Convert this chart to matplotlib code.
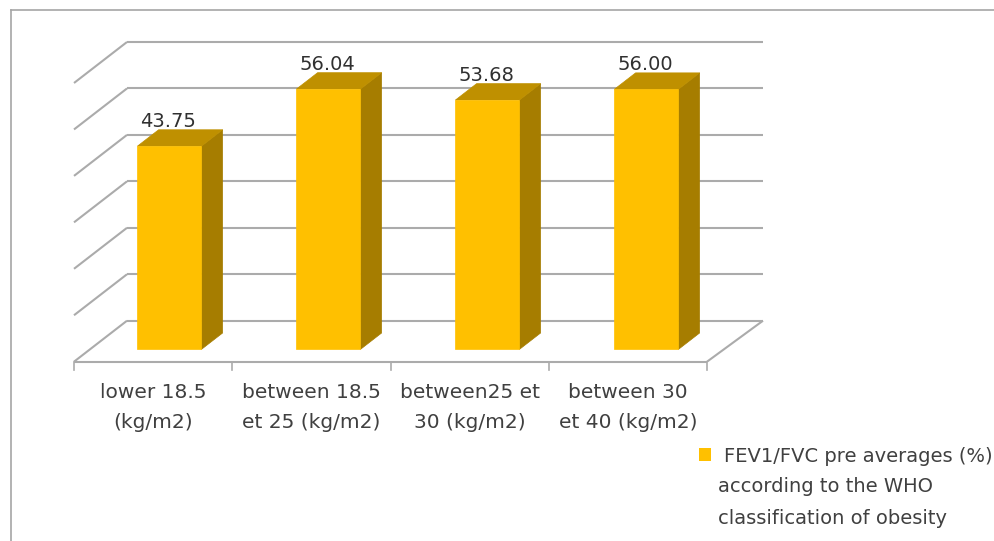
#!/usr/bin/python
# -*- encoding: utf-8 -*-
# Pseudo-3D column chart of FEV1/FVC averages by WHO obesity class
import matplotlib
matplotlib.use('Agg')
import matplotlib.pyplot as plt
from matplotlib.patches import Polygon, Rectangle

categories = ['lower 18.5\n(kg/m2)', 'between 18.5\net 25 (kg/m2)', 'between25 et\n30 (kg/m2)', 'between 30\net 40 (kg/m2)']
values = [43.75, 56.04, 53.68, 56.00]
value_labels = ['43.75', '56.04', '53.68', '56.00']
grid_values = [0, 10, 20, 30, 40, 50, 60]
legend_lines = ['FEV1/FVC pre averages (%)', 'according to the WHO', 'classification of obesity']

W, H = 995, 541
FONT = ['DejaVu Sans']
TEXT = '#404040'
GRID = '#ababab'

# Back wall of the chart in pixels, everything else hangs off it
WALL_L, WALL_R, WALL_TOP, WALL_BOT = 127, 763, 42, 320.7
DEPTH_X_PX, DEPTH_Y_PX = 53, 41
FRONT_SQUEEZE_PX = 3

fig = plt.figure(figsize=(W / 100, H / 100), dpi=100)
ax = fig.add_axes([WALL_L / W, 1 - WALL_BOT / H, (WALL_R - WALL_L) / W, (WALL_BOT - WALL_TOP) / H])
ax.set_xlim(-0.5, 3.5)
ax.set_ylim(0, 60)
ax.axis('off')

unit_x = (WALL_R - WALL_L) / 4
unit_y = (WALL_BOT - WALL_TOP) / 60

# Project a point on the chart floor toward the viewer, depth 0 = wall, 1 = front edge
def project(x, y, depth):
    return (x - depth * DEPTH_X_PX / unit_x, y - depth * DEPTH_Y_PX / unit_y)

# Same thing for the front edge, which is a touch narrower than the wall
def front_edge(x):
    px, py = project(x, 0, 1)
    return (px - (x + 0.5) / 4 * FRONT_SQUEEZE_PX / unit_x, py)

def line3d(p0, p1, **kw):
    ax.plot([p0[0], p1[0]], [p0[1], p1[1]], color=GRID, lw=1.5, clip_on=False,
            solid_capstyle='butt', **kw)

# Gridlines on the back wall, with the matching stroke on the side wall
for v in grid_values:
    line3d((-0.5, v), (3.5, v), zorder=1)
    line3d((-0.5, v), project(-0.5, v, 1), zorder=1)

# Floor front and right edges, plus the category ticks
line3d(front_edge(-0.5), front_edge(3.5), zorder=1)
line3d((3.5, 0), front_edge(3.5), zorder=1)
for i in range(5):
    x, y = front_edge(i - 0.5)
    ax.plot([x, x], [y, y - 8 / unit_y], color=GRID, lw=1.2, clip_on=False, zorder=1)

# Columns: front face, side and top
half = 32 / unit_x
front, back = 0.7, 0.3
for i, v in enumerate(values):
    x = i
    fl, fr = x - half, x + half
    ax.add_patch(Polygon([project(fr, 0, front), project(fr, 0, back), project(fr, v, back), project(fr, v, front)],
                         closed=True, fc='#A67D00', ec='#A67D00', lw=0.5, clip_on=False, zorder=3))
    ax.add_patch(Polygon([project(fl, v, front), project(fr, v, front), project(fr, v, back), project(fl, v, back)],
                         closed=True, fc='#BF9000', ec='#BF9000', lw=0.5, clip_on=False, zorder=3))
    ax.add_patch(Polygon([project(fl, 0, front), project(fr, 0, front), project(fr, v, front), project(fl, v, front)],
                         closed=True, fc='#FFC000', ec='#FFC000', lw=0.5, clip_on=False, zorder=4))
    ax.annotate(value_labels[i], xy=project(x, v, front), xytext=(-1, 18), textcoords='offset points',
                ha='center', va='center', fontsize=14, color='#303030', family=FONT, zorder=2,
                annotation_clip=False)

# Category labels sit under the front edge
for i, c in enumerate(categories):
    ax.annotate(c, xy=front_edge(i), xytext=(0, -33), textcoords='offset points',
                ha='center', va='center', fontsize=14.5, color=TEXT, family=FONT, linespacing=1.75,
                annotation_clip=False)

# Frame: only top and left are drawn in the original
fig.add_artist(plt.Line2D([11 / W, 1], [1 - 9.5 / H, 1 - 9.5 / H], color='#a6a6a6', lw=1.2))
fig.add_artist(plt.Line2D([11 / W, 11 / W], [0, 1 - 9.5 / H], color='#a6a6a6', lw=1.2))

# Legend
fig.add_artist(Rectangle((699 / W, 1 - 461 / H), 12 / W, 13 / H, transform=fig.transFigure, fc='#FFC000', ec='none'))
fig.text(724 / W, 1 - 456 / H, legend_lines[0], ha='left', va='center', fontsize=14, color=TEXT, family=FONT)
fig.text(718 / W, 1 - 486 / H, legend_lines[1], ha='left', va='center', fontsize=14, color=TEXT, family=FONT)
fig.text(718 / W, 1 - 518 / H, legend_lines[2], ha='left', va='center', fontsize=14, color=TEXT, family=FONT)

fig.savefig('out.png', dpi=100)
